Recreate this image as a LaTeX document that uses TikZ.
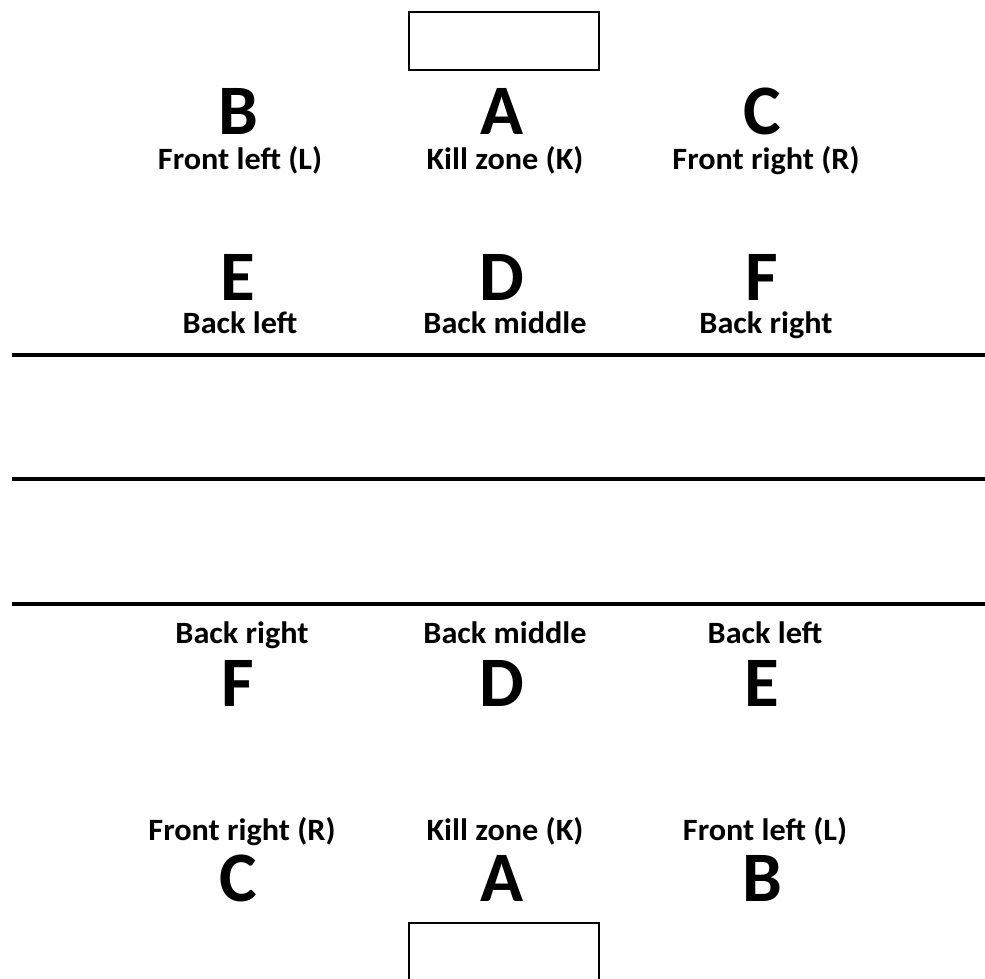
\documentclass[tikz,border=0pt]{standalone}
\usepackage{fontspec}
\setmainfont{Carlito}
\begin{document}
\begin{tikzpicture}[x=1pt,y=-1pt,
  big/.style={font=\bfseries\fontsize{71}{71}\selectfont, anchor=base, inner sep=0pt, text depth=0pt},
  lab/.style={font=\bfseries\fontsize{31}{31}\selectfont, anchor=base, inner sep=0pt, xscale=1.04, text height=20pt},
  goal/.style={draw, line width=2pt},
  divider/.style={line width=4.5pt}]
\useasboundingbox (0,0) rectangle (985,979);
\draw[goal] (409,12) rectangle (599,70);
\draw[goal] (409,923) rectangle (599,990);
% top half
\node[big] (B1) at (238,135) {B};
\node[big] (A1) at (502,135) {A};
\node[big] (C1) at (762,135) {C};
\node[lab] (lB1) at (240,169) {Front left (L)};
\node[lab] (lA1) at (505,169) {Kill zone (K)};
\node[lab] (lC1) at (766,169) {Front right (R)};
\node[big] (E1) at (238,300) {E};
\node[big] (D1) at (502,300) {D};
\node[big] (F1) at (762,300) {F};
\node[lab] (lE1) at (240,333) {Back left};
\node[lab] (lD1) at (505,333) {Back middle};
\node[lab] (lF1) at (766,333) {Back right};
% lines
\coordinate (l1a) at (12,355); \coordinate (l1b) at (985,355);
\coordinate (l2a) at (12,479); \coordinate (l2b) at (985,479);
\coordinate (l3a) at (12,604); \coordinate (l3b) at (985,604);
\draw[divider] (l1a) -- (l1b);
\draw[divider] (l2a) -- (l2b);
\draw[divider] (l3a) -- (l3b);
% bottom half
\node[lab] (lF2) at (242,643) {Back right};
\node[lab] (lD2) at (505,643) {Back middle};
\node[lab] (lE2) at (765,643) {Back left};
\node[big] (F2) at (238,706) {F};
\node[big] (D2) at (502,706) {D};
\node[big] (E2) at (762,706) {E};
\node[lab] (lC2) at (242,840) {Front right (R)};
\node[lab] (lA2) at (505,840) {Kill zone (K)};
\node[lab] (lB2) at (765,840) {Front left (L)};
\node[big] (C2) at (238,901) {C};
\node[big] (A2) at (502,901) {A};
\node[big] (B2) at (762,901) {B};
\end{tikzpicture}
\end{document}
